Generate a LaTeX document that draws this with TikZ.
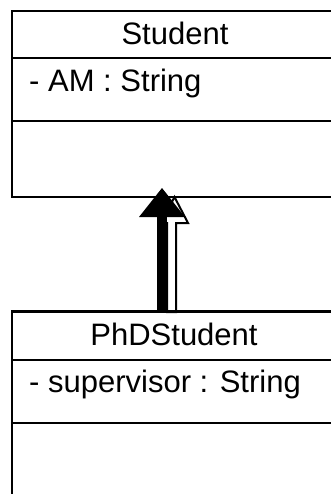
\documentclass[tikz,border=0pt]{standalone}
\usepackage{fontspec}
\setmainfont{Liberation Sans}
\begin{document}
\begin{tikzpicture}[x=1pt,y=-1pt,
  classbox/.style={draw=black, line width=2pt, fill=white, minimum width=328pt, inner sep=0pt, anchor=north west},
  classtext/.style={inner sep=0pt, font=\fontsize{31}{36}\selectfont},
  divider/.style={line width=2pt}]
\useasboundingbox (0,0) rectangle (331,494);
\clip (0,0) rectangle (331,494);
\fill[white] (0,0) rectangle (331,494);
% Student class
\node[classbox, minimum height=186pt] (student) at (11,10) {};
\draw[divider] ([yshift=-48pt]student.north west) -- ([yshift=-48pt]student.north east);
\draw[divider] ([yshift=-111pt]student.north west) -- ([yshift=-111pt]student.north east);
\node[classtext, anchor=base] (sname) at (175,45) {Student};
\node[classtext, anchor=base west] (sattr) at (29,92) {- AM : String};
% PhDStudent class
\node[classbox, minimum height=220pt] (phd) at (11,311) {};
\draw[divider] ([yshift=-49pt]phd.north west) -- ([yshift=-49pt]phd.north east);
\draw[divider] ([yshift=-112pt]phd.north west) -- ([yshift=-112pt]phd.north east);
\node[classtext, anchor=base] (pname) at (174,345) {PhDStudent};
\node[classtext, anchor=base west] (pattr) at (29,392) {- supervisor : String};
% generalisation arrow (white outlined one behind)
\coordinate (wtip) at (174.5,197);
\draw[line width=2pt, fill=white, line join=miter]
  (wtip) -- (188,223) -- (176,223) -- (176,312) -- (167,312) -- (167,223) -- (161,223) -- cycle;
% black arrow
\coordinate (btip) at (162,188);
\fill[black] (157,311) rectangle (166.5,215);
\fill[black] (btip) -- (185,217) -- (139,217) -- cycle;
\draw[divider] (phd.north west) -- (phd.north east);
\end{tikzpicture}
\end{document}
